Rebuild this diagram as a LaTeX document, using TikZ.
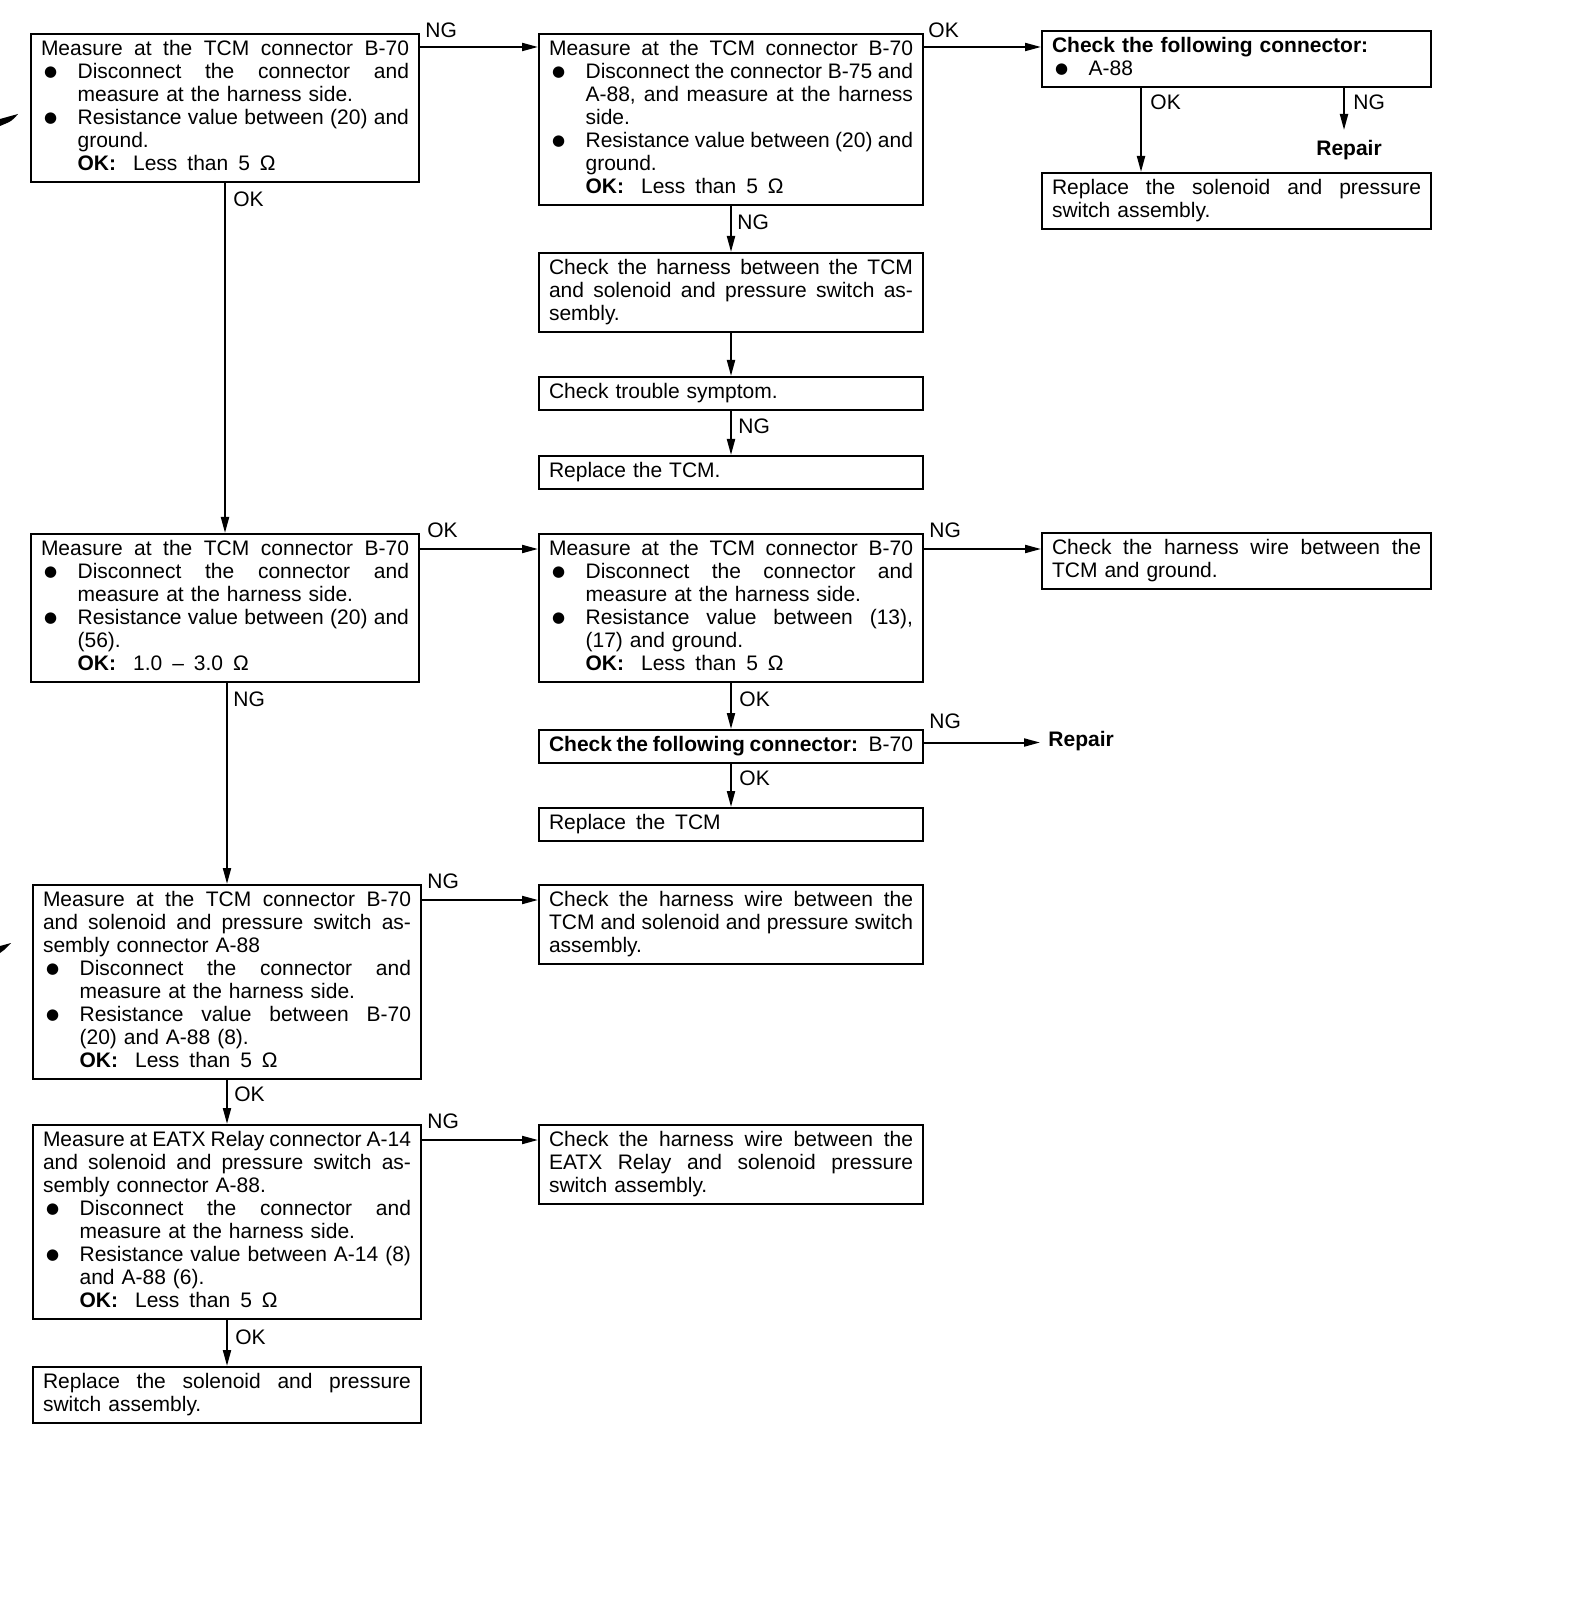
\documentclass[tikz,border=0pt]{standalone}
\usepackage{fontspec}
\setmainfont{Liberation Sans}
\newfontfamily\djv{DejaVu Sans}
\usetikzlibrary{arrows.meta,calc}
\newcommand\fs{\fontsize{10.5}{11.5}\selectfont}
\newcommand\xsk{\spaceskip=2.92pt plus 30pt minus 1.3pt\relax}
\newcommand\xbul{\hspace*{1.6pt}\raisebox{0.7pt}{\djv\fontsize{7.5}{7.5}\selectfont ●}}
\newcommand\xLJ[1]{\noindent\strut\hbox to \hsize{\xsk #1}\par}
\newcommand\xLL[1]{\noindent\strut#1\par}
\newcommand\xBJ[1]{\noindent\strut\hbox to 18.3pt{\xbul\hss}\hbox to \dimexpr\hsize-18.3pt\relax{\xsk #1}\par}
\newcommand\xBL[1]{\noindent\strut\hbox to 18.3pt{\xbul\hss}#1\par}
\newcommand\xIJ[1]{\noindent\strut\hspace*{18.3pt}\hbox to \dimexpr\hsize-18.3pt\relax{\xsk #1}\par}
\newcommand\xIL[1]{\noindent\strut\hspace*{18.3pt}#1\par}
\newcommand\xOK[1]{\xIL{\textbf{OK:}\hspace{8.5pt}#1}}
\newcommand\wsp{\hspace{5pt}}
\begin{document}
\begin{tikzpicture}[x=0.5pt,y=-0.5pt,
  box/.style={draw, line width=1pt, anchor=north west, inner xsep=5pt, inner ysep=2.5pt, font=\fs},
  abox/.style={box, text width=184pt},
  bbox/.style={box, text width=182pt},
  cbox/.style={box, text width=184.5pt},
  lbl/.style={inner sep=0pt, anchor=west, font=\fs},
  arr/.style={line width=1pt, -{Triangle[length=8pt,width=4pt]}}]
\useasboundingbox (0,0) rectangle (1584,1598);

% ---------- boxes ----------
\node[abox] (a1) at (30,33) {%
\xLJ{Measure at the TCM connector B-70}
\xBJ{Disconnect the connector and}
\xIL{measure at the harness side.}
\xBJ{Resistance value between (20) and}
\xIL{ground.}
\xOK{Less\wsp than\wsp 5\wsp Ω}};

\node[bbox] (b1) at (538,33) {%
\xLJ{Measure at the TCM connector B-70}
\xBJ{Disconnect the connector B-75 and}
\xIJ{A-88, and measure at the harness}
\xIL{side.}
\xBJ{Resistance value between (20) and}
\xIL{ground.}
\xOK{Less\wsp than\wsp 5\wsp Ω}};

\node[cbox] (c1) at (1041,30) {%
\xLL{\textbf{Check the following connector:}}
\xBL{A-88}};

\node[cbox] (c2) at (1041,172) {%
\xLJ{Replace the solenoid and pressure}
\xLL{switch assembly.}};

\node[bbox] (b2) at (538,252) {%
\xLJ{Check the harness between the TCM}
\xLJ{and solenoid and pressure switch as-}
\xLL{sembly.}};

\node[bbox] (b3) at (538,376) {\xLL{Check trouble symptom.}};
\node[bbox] (b4) at (538,455) {\xLL{Replace the TCM.}};

\node[abox] (a2) at (30,533) {%
\xLJ{Measure at the TCM connector B-70}
\xBJ{Disconnect the connector and}
\xIL{measure at the harness side.}
\xBJ{Resistance value between (20) and}
\xIL{(56).}
\xOK{1.0\wsp –\wsp 3.0\wsp Ω}};

\node[bbox] (b5) at (538,533) {%
\xLJ{Measure at the TCM connector B-70}
\xBJ{Disconnect the connector and}
\xIL{measure at the harness side.}
\xBJ{Resistance value between (13),}
\xIL{(17) and ground.}
\xOK{Less\wsp than\wsp 5\wsp Ω}};

\node[cbox] (c3) at (1041,532) {%
\xLJ{Check the harness wire between the}
\xLL{TCM and ground.}};

\node[bbox] (b6) at (538,729) {\xLJ{\textbf{Check the following connector:} B-70}};
\node[bbox] (b7) at (538,807) {\xLL{Replace\wsp the\wsp TCM}};

\node[abox] (a3) at (32,884) {%
\xLJ{Measure at the TCM connector B-70}
\xLJ{and solenoid and pressure switch as-}
\xLL{sembly connector A-88}
\xBJ{Disconnect the connector and}
\xIL{measure at the harness side.}
\xBJ{Resistance value between B-70}
\xIL{(20) and A-88 (8).}
\xOK{Less\wsp than\wsp 5\wsp Ω}};

\node[bbox] (b8) at (538,884) {%
\xLJ{Check the harness wire between the}
\xLJ{TCM and solenoid and pressure switch}
\xLL{assembly.}};

\node[abox] (a4) at (32,1124) {%
\xLJ{Measure at EATX Relay connector A-14}
\xLJ{and solenoid and pressure switch as-}
\xLL{sembly connector A-88.}
\xBJ{Disconnect the connector and}
\xIL{measure at the harness side.}
\xBJ{Resistance value between A-14 (8)}
\xIL{and A-88 (6).}
\xOK{Less\wsp than\wsp 5\wsp Ω}};

\node[bbox] (b9) at (538,1124) {%
\xLJ{Check the harness wire between the}
\xLJ{EATX Relay and solenoid pressure}
\xLL{switch assembly.}};

\node[abox] (a5) at (32,1366) {%
\xLJ{Replace the solenoid and pressure}
\xLL{switch assembly.}};

\node[inner sep=0pt, anchor=north, font=\fs\bfseries] (r1) at (1349,140) {Repair};
\node[inner xsep=4pt, inner ysep=0pt, anchor=west, font=\fs\bfseries] (r2) at (1040,741) {Repair};

% ---------- connectors ----------
\coordinate (p1) at ([yshift=-7pt]b1.north east);
\coordinate (p2) at ($(c1.south west)+(100,0)$);
\coordinate (p3) at ($(c1.south west)+(303,0)$);
\coordinate (p4) at ([yshift=-8pt]b5.north east);
\coordinate (p5) at ([yshift=2pt]b6.east);
\coordinate (p6) at ([yshift=-8pt]a3.north east);
\coordinate (p7) at ([yshift=-8pt]a4.north east);

\draw[arr] ([yshift=-7pt]a1.north east) -- ([yshift=-7pt]b1.north west);
\draw[arr] (p1) -- (c1.west |- p1);
\draw[arr] (a1.south) -- (a2.north);
\draw[arr] (p2) -- (c2.north -| p2);
\draw[arr] (p3) -- ([yshift=5pt]r1.north -| p3);
\draw[arr] (b1.south) -- (b2.north);
\draw[arr] (b2.south) -- (b3.north);
\draw[arr] (b3.south) -- (b4.north);
\draw[arr] ([yshift=-8pt]a2.north east) -- ([yshift=-8pt]b5.north west);
\draw[arr] (a3.north |- a2.south) -- (a3.north);
\draw[arr] (p4) -- (c3.west |- p4);
\draw[arr] (b5.south) -- (b6.north);
\draw[arr] (p5) -- (r2.west |- p5);
\draw[arr] (b6.south) -- (b7.north);
\draw[arr] (p6) -- (b8.west |- p6);
\draw[arr] (a3.south) -- (a4.north);
\draw[arr] (p7) -- (b9.west |- p7);
\draw[arr] (a4.south) -- (a5.north);

% ---------- labels ----------
\node[lbl] (n1) at (425,30) {NG};
\node[lbl] (o1) at (233,199) {OK};
\node[lbl] (o2) at (928,30) {OK};
\node[lbl] (o3) at (1150,102) {OK};
\node[lbl] (n2) at (1353,102) {NG};
\node[lbl] (n3) at (737,222) {NG};
\node[lbl] (n4) at (738,426) {NG};
\node[lbl] (o4) at (427,530) {OK};
\node[lbl] (n5) at (233,699) {NG};
\node[lbl] (n6) at (929,530) {NG};
\node[lbl] (o5) at (739,699) {OK};
\node[lbl] (n7) at (929,721) {NG};
\node[lbl] (o6) at (739,778) {OK};
\node[lbl] (n8) at (427,881) {NG};
\node[lbl] (o7) at (234,1094) {OK};
\node[lbl] (n9) at (427,1121) {NG};
\node[lbl] (o8) at (235,1337) {OK};

% ---------- cut-off arrowheads at left edge ----------
\fill (0,119) -- (18,114) .. controls (12,121) .. (0,126) -- cycle;
\fill (0,946) -- (11,943) -- (4,950) -- (0,953) -- cycle;
\end{tikzpicture}
\end{document}
